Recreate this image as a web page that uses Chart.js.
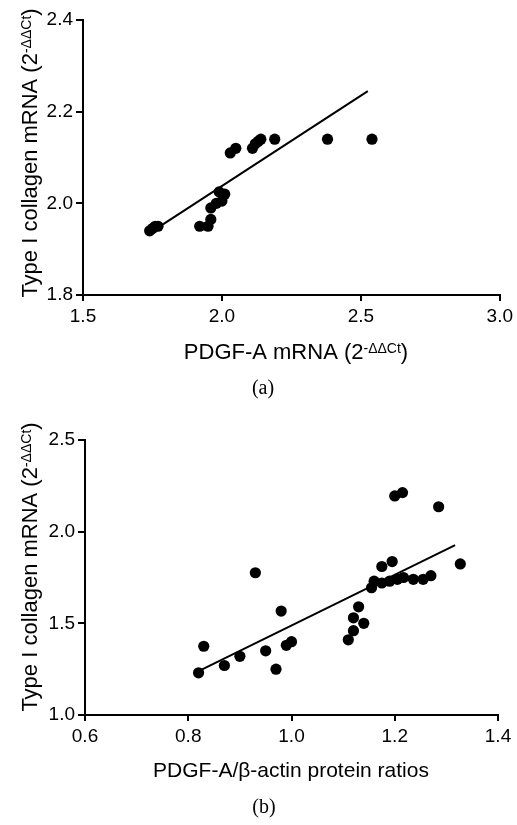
<!DOCTYPE html>
<html><head><meta charset="utf-8">
<script src="https://cdn.jsdelivr.net/npm/chart.js@4.4.1/dist/chart.umd.min.js"></script>
<style>
html,body{margin:0;padding:0;background:#fff;}
#wrap{position:relative;width:517px;height:825px;overflow:hidden;}
canvas{position:absolute;left:0;display:block;}
</style></head><body>
<div id="wrap">
<canvas id="ca" width="517" height="412" style="top:0"></canvas>
<canvas id="cb" width="517" height="413" style="top:412px"></canvas>
</div>
<script>
// ---------- Panel (a) data ----------
const aX = [1.74,1.75,1.76,1.77,1.92,1.95,1.96,1.96,1.98,2.00,2.01,1.99,2.03,2.05,2.11,2.12,2.13,2.14,2.19,2.38,2.54];
const aY = [1.94,1.945,1.95,1.95,1.95,1.95,1.965,1.99,2.00,2.005,2.02,2.025,2.11,2.12,2.12,2.13,2.135,2.14,2.14,2.14,2.14];
const aFitX = [1.76, 2.525];
const aFitY = [1.943, 2.245];
const aXTicks = [1.5, 2.0, 2.5, 3.0];
const aYTicks = [1.8, 2.0, 2.2, 2.4];

// ---------- Panel (b) data ----------
const bX = [0.82,0.83,0.87,0.90,0.93,0.95,0.97,0.98,0.99,1.00,1.11,1.12,1.12,1.13,1.14,1.155,1.16,1.175,1.175,1.195,1.19,1.205,1.20,1.215,1.217,1.236,1.255,1.27,1.285,1.327];
const bY = [1.23,1.375,1.27,1.32,1.776,1.35,1.25,1.567,1.38,1.40,1.41,1.46,1.53,1.59,1.50,1.694,1.73,1.72,1.81,1.837,1.73,1.74,2.195,2.213,1.75,1.74,1.74,1.76,2.136,1.824];
const bFitX = [0.826, 1.317];
const bFitY = [1.247, 1.927];
const bXTicks = [0.6, 0.8, 1.0, 1.2, 1.4];
const bYTicks = [1.0, 1.5, 2.0, 2.5];

const SANS = '"Liberation Sans", Arial, Helvetica, sans-serif';
const SERIF = '"Liberation Serif", "Times New Roman", serif';

function drawParts(ctx, parts, px, py, rot, size, supSize, supShift){
  ctx.save();
  ctx.translate(px, py);
  ctx.rotate(rot);
  ctx.textBaseline = 'alphabetic';
  ctx.textAlign = 'left';
  let total = 0;
  const w = parts.map(p => {
    ctx.font = (p.sup ? supSize : size) + 'px ' + SANS;
    const m = ctx.measureText(p.t).width; total += m; return m;
  });
  let x = -total / 2;
  parts.forEach((p, i) => {
    ctx.font = (p.sup ? supSize : size) + 'px ' + SANS;
    ctx.fillText(p.t, x, p.sup ? -supShift : 0);
    x += w[i];
  });
  ctx.restore();
}

const titlesPlugin = {
  id: 'titles',
  afterDraw(chart, args, o){
    const ctx = chart.ctx;
    ctx.save();
    ctx.fillStyle = '#000';
    drawParts(ctx, o.xTitle, o.xPos[0], o.xPos[1], 0, o.xSize, o.supSize, o.supShift);
    drawParts(ctx, o.yTitle, o.yPos[0], o.yPos[1], -Math.PI/2, o.size, o.supSize, o.supShift);
    ctx.font = o.capSize + 'px ' + SERIF;
    ctx.textAlign = 'center';
    ctx.textBaseline = 'alphabetic';
    ctx.fillText(o.caption, o.capPos[0], o.capPos[1]);
    ctx.restore();
  }
};

function makeChart(id, xs, ys, fx, fy, xt, yt, box, titles){
  const pts = xs.map((x, i) => ({x: x, y: ys[i]}));
  const fit = fx.map((x, i) => ({x: x, y: fy[i]}));
  const H = box.h;
  const tickFont = {family: SANS, size: 19};
  const grid = {drawOnChartArea: false, drawTicks: true, tickLength: 6, color: '#000', lineWidth: 2};
  return new Chart(document.getElementById(id), {
    type: 'scatter',
    data: {datasets: [
      {data: fit, showLine: true, borderColor: '#000', borderWidth: 2, pointRadius: 0, pointHoverRadius: 0, fill: false},
      {data: pts, pointRadius: 5.6, pointHoverRadius: 5.6, backgroundColor: '#000', borderWidth: 0}
    ]},
    options: {
      responsive: false, animation: false,
      layout: {padding: {top: box.top, right: 517 - box.right, left: 0, bottom: 0}},
      plugins: {legend: {display: false}, tooltip: {enabled: false}, titles: titles},
      scales: {
        x: {
          type: 'linear', min: xt[0], max: xt[xt.length - 1],
          afterBuildTicks: s => { s.ticks = xt.map(v => ({value: v})); },
          ticks: {font: tickFont, color: '#000', padding: 4, maxRotation: 0, autoSkip: false,
                  callback: v => Number(v).toFixed(1)},
          grid: grid, border: {color: '#000', width: 2},
          afterFit: s => { s.height = H - box.bottom; }
        },
        y: {
          type: 'linear', min: yt[0], max: yt[yt.length - 1],
          afterBuildTicks: s => { s.ticks = yt.map(v => ({value: v})); },
          ticks: {font: tickFont, color: '#000', padding: 3, autoSkip: false,
                  callback: v => Number(v).toFixed(1)},
          grid: Object.assign({}, grid, {tickLength: 7}), border: {color: '#000', width: 2},
          afterFit: s => { s.width = box.left; }
        }
      }
    },
    plugins: [titlesPlugin]
  });
}

const yTitleParts = [{t: 'Type I collagen mRNA (2'}, {t: '-ΔΔCt', sup: true}, {t: ')'}];

makeChart('ca', aX, aY, aFitX, aFitY, aXTicks, aYTicks,
  {h: 412, top: 20, bottom: 295, left: 83, right: 501},
  {xTitle: [{t: 'PDGF-A mRNA (2'}, {t: '-ΔΔCt', sup: true}, {t: ')'}],
   yTitle: yTitleParts,
   xPos: [296, 359], yPos: [37, 153], size: 22, xSize: 22, supSize: 14, supShift: 6,
   caption: '(a)', capPos: [263, 394], capSize: 20});

makeChart('cb', bX, bY, bFitX, bFitY, bXTicks, bYTicks,
  {h: 413, top: 28, bottom: 303, left: 85, right: 498},
  {xTitle: [{t: 'PDGF-A/β-actin protein ratios'}],
   yTitle: yTitleParts,
   xPos: [291, 365], yPos: [37, 155], size: 22, xSize: 21, supSize: 14, supShift: 6,
   caption: '(b)', capPos: [264, 401], capSize: 20});
</script>
</body></html>
